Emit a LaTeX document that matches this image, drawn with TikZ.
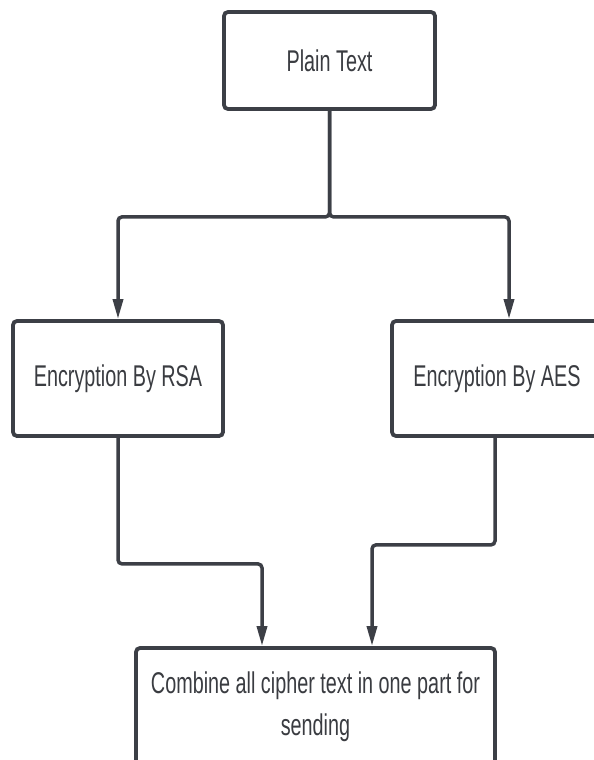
\documentclass[tikz,border=0pt]{standalone}
\usepackage{fontspec}
\setmainfont[FakeStretch=0.66]{Liberation Sans}
\usetikzlibrary{arrows.meta}
\definecolor{ink}{HTML}{3C3F46}
\definecolor{txt}{HTML}{3A3C41}
\tikzset{
  box/.style={draw=ink, line width=3.8pt, rounded corners=4pt, fill=white,
    text=txt, align=center, inner sep=0pt,
    font=\fontsize{30}{42}\selectfont},
  conn/.style={draw=ink, line width=3.5pt, rounded corners=4pt,
    -{Triangle[length=20pt,width=10pt]}}
}
\begin{document}
\begin{tikzpicture}[x=1pt,y=-1pt]
  \useasboundingbox (0,0) rectangle (594,760);
  \clip (0,0) rectangle (594,760);
  \fill[white] (0,0) rectangle (594,760);

  % process boxes
  \node[box, minimum width=211pt, minimum height=97pt]  (plain) at (329.5,60.5) {Plain Text};
  \node[box, minimum width=210pt, minimum height=115pt] (rsa)   at (118,378.5)  {Encryption By RSA};
  \node[box, minimum width=210pt, minimum height=115pt] (aes)   at (497,378.5)  {Encryption By AES};
  \node[box, minimum width=359pt, minimum height=118pt] (comb)  at (315.5,707)
    {Combine all cipher text in one part for\\sending};

  % split into the two encryptions
  \draw[conn] (plain.south) -- ++(0,106) -| (rsa.north);
  \draw[conn] (plain.south) -- ++(0,106) -| ([xshift=12pt]aes.north);

  % merge the two cipher texts
  \draw[conn] (rsa.south) -- ++(0,126) -| ([xshift=-53.5pt]comb.north);
  \draw[conn] ([xshift=-2pt]aes.south) -- ++(0,107) -| ([xshift=56.5pt]comb.north);
\end{tikzpicture}
\end{document}
